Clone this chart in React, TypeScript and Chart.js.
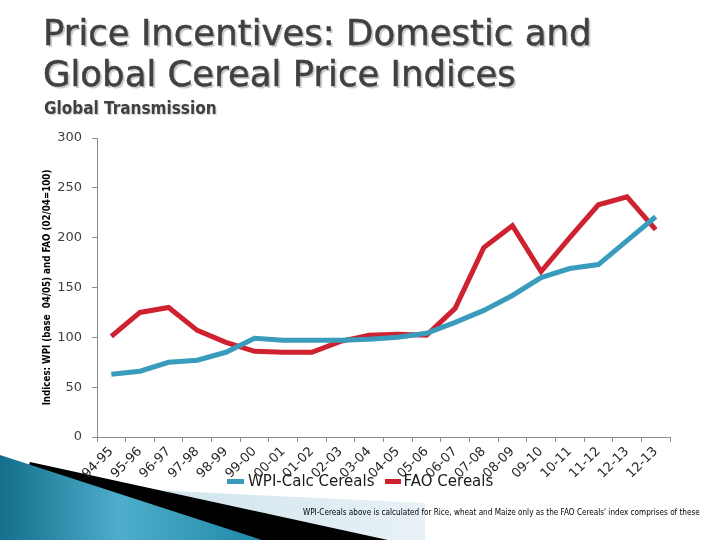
import { useEffect, useRef } from "react";
import { Chart, registerables } from "chart.js";

Chart.register(...registerables);

const seasons = [
  "94-95", "95-96", "96-97", "97-98", "98-99", "99-00", "00-01", "01-02",
  "02-03", "03-04", "04-05", "05-06", "06-07", "07-08", "08-09", "09-10",
  "10-11", "11-12", "12-13", "12-13",
];

const wpiCereals = [
  63, 66, 75, 77, 85, 99, 97, 97, 97, 98, 100, 104, 115, 127, 142, 160, 169,
  173, 197, 221,
];

const faoCereals = [
  101, 125, 130, 107, 95, 86, 85, 85, 96, 102, 103, 102, 129, 190, 212, 166,
  200, 233, 241, 208,
];

const yTicks = [0, 50, 100, 150, 200, 250, 300];

const BLUE = "#3a9cbc";
const RED = "#cf2230";
const tickFont = { family: "DejaVu Sans", size: 13 };

export default function App() {
  const canvasRef = useRef<HTMLCanvasElement | null>(null);

  useEffect(() => {
    if (canvasRef.current == null) return;

    const chart = new Chart(canvasRef.current, {
      type: "line",
      data: {
        labels: seasons,
        datasets: [
          {
            label: "WPI-Calc Cereals",
            data: wpiCereals,
            borderColor: BLUE,
            backgroundColor: BLUE,
            borderWidth: 5,
            pointRadius: 0,
            tension: 0,
          },
          {
            label: "FAO Cereals",
            data: faoCereals,
            borderColor: RED,
            backgroundColor: RED,
            borderWidth: 5,
            pointRadius: 0,
            tension: 0,
          },
        ],
      },
      options: {
        responsive: false,
        animation: false,
        layout: { padding: { left: 38, right: 50, top: 138, bottom: 43 } },
        plugins: {
          legend: { display: false },
          tooltip: { enabled: false },
        },
        scales: {
          x: {
            type: "category",
            offset: true,
            afterFit: (scale: any) => {
              scale.height = 60;
            },
            border: { color: "#8c8c8c", width: 1 },
            grid: {
              drawOnChartArea: false,
              drawTicks: true,
              tickLength: 5,
              color: "#8c8c8c",
              offset: true,
            },
            ticks: {
              autoSkip: false,
              minRotation: 45,
              maxRotation: 45,
              padding: 2,
              color: "#262626",
              font: tickFont,
            },
          },
          y: {
            min: 0,
            max: 300,
            afterFit: (scale: any) => {
              scale.width = 59;
            },
            afterBuildTicks: (scale: any) => {
              scale.ticks = yTicks.map((v) => ({ value: v }));
            },
            border: { color: "#8c8c8c", width: 1 },
            grid: {
              drawOnChartArea: false,
              drawTicks: true,
              tickLength: 5,
              color: "#8c8c8c",
            },
            ticks: {
              padding: 10,
              color: "#404040",
              font: tickFont,
            },
            title: {
              display: true,
              text: "Indices: WPI (base  04/05) and FAO (02/04=100)",
              color: "#000000",
              font: { family: "DejaVu Sans Condensed", size: 9.7, weight: "bold" },
              padding: { top: 4, bottom: 0 },
            },
          },
        },
      },
    });

    return () => {
      chart.destroy();
    };
  }, []);

  return (
    <div
      style={{
        position: "absolute",
        left: 0,
        top: 0,
        width: 720,
        height: 540,
        background: "#ffffff",
        overflow: "hidden",
        fontFamily: "DejaVu Sans",
      }}
    >
      {/* slide decoration, bottom left */}
      <svg
        width={720}
        height={540}
        style={{ position: "absolute", left: 0, top: 0 }}
      >
        <defs>
          <linearGradient id="swoosh" x1="0" y1="0" x2="1" y2="0">
            <stop offset="0" stopColor="#136f8c" />
            <stop offset="0.45" stopColor="#4eaecb" />
            <stop offset="1" stopColor="#1f86a6" />
          </linearGradient>
          <linearGradient id="pale" x1="0" y1="0" x2="1" y2="0">
            <stop offset="0" stopColor="#cfe3ec" />
            <stop offset="1" stopColor="#e8f2f6" />
          </linearGradient>
        </defs>
        <polygon points="150,490 425,503 425,545 150,545" fill="url(#pale)" />
        <polygon points="30,462 420,547 0,547" fill="#000000" />
        <polygon points="0,455 268,542 0,542" fill="url(#swoosh)" />
      </svg>

      <canvas
        ref={canvasRef}
        width={720}
        height={540}
        style={{ position: "absolute", left: 0, top: 0 }}
      ></canvas>

      <div
        style={{
          position: "absolute",
          left: 43,
          top: 12,
          fontFamily: "DejaVu Sans",
          fontSize: 35.5,
          lineHeight: "41px",
          color: "#404040",
          WebkitTextStroke: "0.5px #404040",
          textShadow: "2px 2px 1px #c8c8c8",
          whiteSpace: "nowrap",
        }}
      >
        Price Incentives: Domestic and
        <br />
        Global Cereal Price Indices
      </div>

      <div
        style={{
          position: "absolute",
          left: 44,
          top: 98,
          fontFamily: "DejaVu Sans Condensed",
          fontWeight: "bold",
          fontSize: 17,
          color: "#404040",
          textShadow: "1px 1px 1px #d0d0d0",
          whiteSpace: "nowrap",
        }}
      >
        Global Transmission
      </div>

      {/* legend, overlapping the category labels as in the slide */}
      <div
        style={{
          position: "absolute",
          left: 227,
          top: 472,
          display: "flex",
          alignItems: "center",
          fontSize: 15,
          color: "#1a1a1a",
          whiteSpace: "nowrap",
        }}
      >
        <span
          style={{ display: "inline-block", width: 17, height: 5, background: BLUE, marginRight: 4 }}
        ></span>
        <span style={{ marginRight: 10 }}>WPI-Calc Cereals</span>
        <span
          style={{ display: "inline-block", width: 16, height: 5, background: RED, marginRight: 3 }}
        ></span>
        <span>FAO Cereals</span>
      </div>

      <div
        style={{
          position: "absolute",
          left: 303,
          top: 507,
          fontFamily: "DejaVu Sans Condensed",
          fontSize: 8.1,
          color: "#000000",
          whiteSpace: "nowrap",
        }}
      >
        WPI-Cereals above is calculated for Rice, wheat and Maize only as the FAO Cereals' index comprises of these
      </div>
    </div>
  );
}
